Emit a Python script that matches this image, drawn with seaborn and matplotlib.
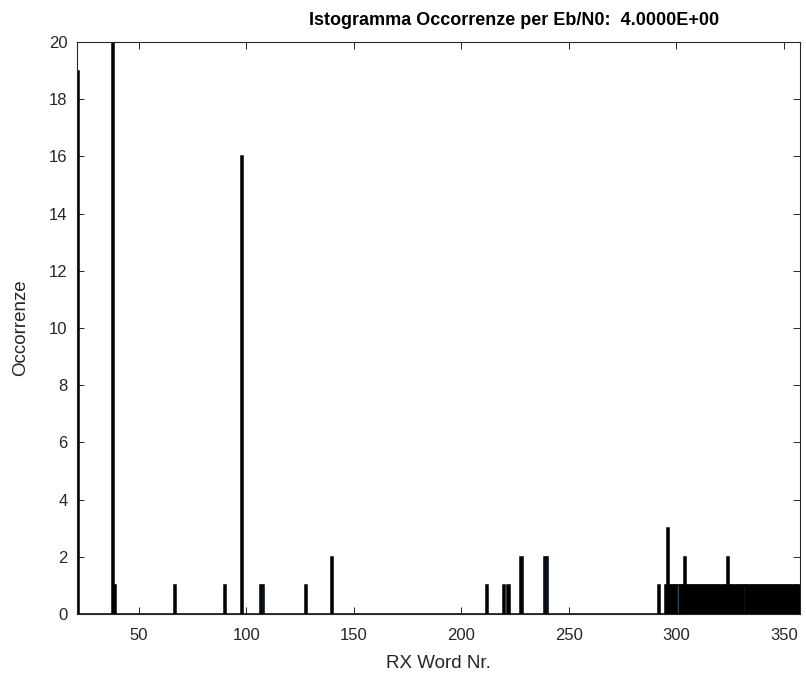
import matplotlib
matplotlib.use("Agg")
import matplotlib.pyplot as plt
import seaborn as sns

# Received word numbers and how often each one occurred
word_nr = [22, 38, 39, 67, 90, 98, 107, 108, 128, 140,
           212, 220, 222, 228, 239, 240, 292,
           295, 296, 297, 298, 299, 300, 301, 302, 303, 304,
           305, 306, 307, 308, 309, 310, 311, 312, 313, 314,
           315, 316, 317, 318, 319, 320, 321, 322, 323, 324,
           325, 326, 327, 328, 329, 330, 331, 332, 333, 334,
           335, 336, 337, 338, 339, 340, 341, 342, 343, 344,
           345, 346, 347, 348, 349, 350, 351, 352, 353, 354,
           355, 356, 357]
occorrenze = [19, 20, 1, 1, 1, 16, 1, 1, 1, 2,
              1, 1, 1, 2, 2, 2, 1,
              1, 3, 1, 1, 1, 1, 1, 1, 1, 2,
              1, 1, 1, 1, 1, 1, 1, 1, 1, 1,
              1, 1, 1, 1, 1, 1, 1, 1, 1, 2,
              1, 1, 1, 1, 1, 1, 1, 1, 1, 1,
              1, 1, 1, 1, 1, 1, 1, 1, 1, 1,
              1, 1, 1, 1, 1, 1, 1, 1, 1, 1,
              1, 1, 1]
# bins whose blue face shows between the black edges
blue_face_words = [107, 108, 239, 240, 301, 332]

x_ticks = [50, 100, 150, 200, 250, 300, 350]
y_ticks = [0, 2, 4, 6, 8, 10, 12, 14, 16, 18, 20]

title_text = "Istogramma Occorrenze per Eb/N0:  4.0000E+00"
xlabel_text = "RX Word Nr."
ylabel_text = "Occorrenze"

sns.set_theme(style="white")
plt.rcParams["font.family"] = ["Liberation Sans", "DejaVu Sans"]

axis_col = "#262626"
face_blue = "#1d4f7c"

fig = plt.figure(figsize=(8.06, 6.85), dpi=100)
ax = fig.add_axes([0.0959, 0.1036, 0.8967, 0.8351])

sns.histplot(x=word_nr, weights=occorrenze, discrete=True, color="black",
             edgecolor="black", linewidth=1.1, alpha=1.0, ax=ax)

for p in ax.patches:
    centre = round(p.get_x() + p.get_width() / 2)
    if centre in blue_face_words and p.get_height() > 0:
        p.set_facecolor(face_blue)

ax.set_xlim(21.5, 357.5)
ax.set_ylim(0, 20)
ax.set_xticks(x_ticks)
ax.set_yticks(y_ticks)

ax.tick_params(axis="both", which="both", direction="in", length=5, width=0.7,
               top=True, right=True, bottom=True, left=True,
               colors=axis_col, labelsize=12)
ax.tick_params(axis="x", pad=10)
ax.tick_params(axis="y", pad=7)
for s in ax.spines.values():
    s.set_color(axis_col)
    s.set_linewidth(0.8)
    s.set_visible(True)
    s.set_zorder(5)

ax.set_xlabel(xlabel_text, fontsize=13.5, color=axis_col, labelpad=9)
ax.set_ylabel(ylabel_text, fontsize=13.5, color=axis_col, labelpad=14)
ax.set_title(title_text, fontsize=13, fontweight="bold", color="black",
             x=0.604, pad=12)

fig.savefig("out.png", dpi=100, facecolor="white")
